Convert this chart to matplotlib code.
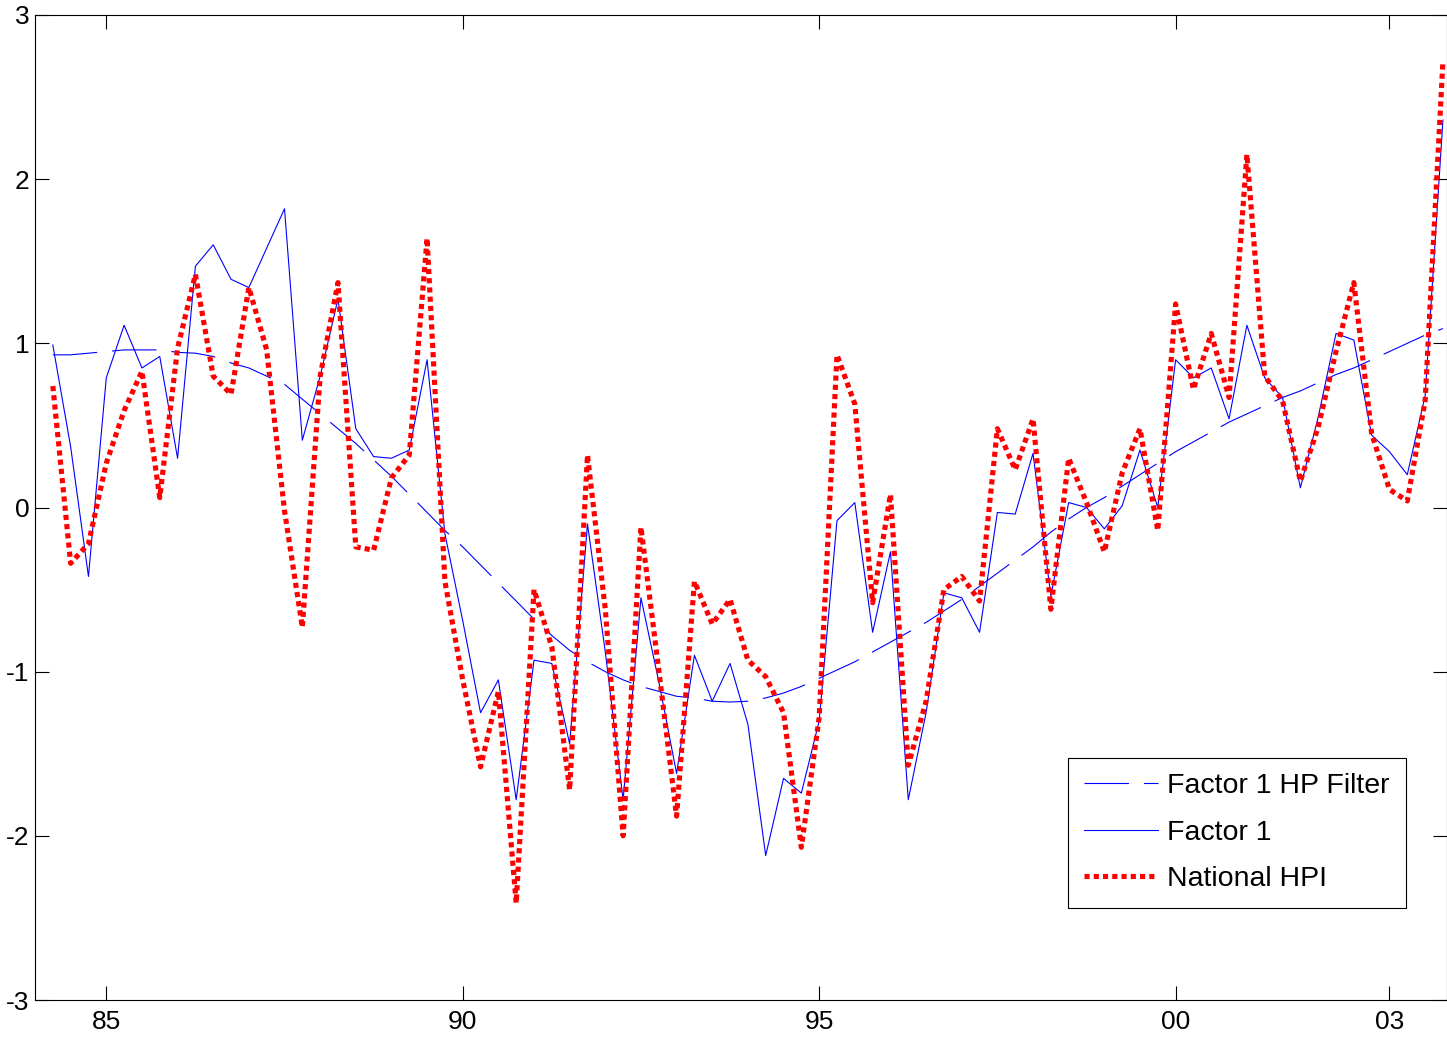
import matplotlib
matplotlib.use("Agg")
import matplotlib.pyplot as plt
import numpy as np

plt.rcParams['font.family'] = ['Liberation Sans', 'DejaVu Sans']
plt.rcParams['axes.unicode_minus'] = False

# quarterly observations, 1984Q2 .. 2003Q4
start_year = 1984.25
n_obs = 79

factor1 = [0.99, 0.37, -0.42, 0.79, 1.11, 0.85, 0.92, 0.30, 1.47, 1.60,
           1.39, 1.34, 1.58, 1.82, 0.41, 0.80, 1.27, 0.48, 0.31, 0.30,
           0.35, 0.90, -0.16, -0.69, -1.25, -1.05, -1.78, -0.93, -0.95, -1.44,
           -0.10, -0.88, -1.78, -0.55, -1.06, -1.62, -0.90, -1.18, -0.95, -1.32,
           -2.12, -1.65, -1.74, -1.30, -0.08, 0.03, -0.76, -0.27, -1.78, -1.25,
           -0.52, -0.55, -0.76, -0.03, -0.04, 0.33, -0.54, 0.03, 0.00, -0.13,
           0.01, 0.35, 0.00, 0.90, 0.79, 0.85, 0.54, 1.11, 0.79, 0.67,
           0.12, 0.55, 1.06, 1.02, 0.44, 0.34, 0.20, 0.68, 2.36]

hp_trend = [0.93, 0.93, 0.94, 0.95, 0.96, 0.96, 0.96, 0.945, 0.94, 0.92,
            0.88, 0.85, 0.80, 0.75, 0.66, 0.57, 0.48, 0.39, 0.29, 0.19,
            0.08, -0.03, -0.14, -0.24, -0.35, -0.46, -0.57, -0.68, -0.78, -0.87,
            -0.94, -1.00, -1.05, -1.09, -1.12, -1.15, -1.16, -1.18, -1.185, -1.18,
            -1.16, -1.13, -1.09, -1.04, -0.99, -0.94, -0.88, -0.82, -0.76, -0.70,
            -0.63, -0.56, -0.48, -0.40, -0.32, -0.24, -0.15, -0.07, 0.00, 0.06,
            0.13, 0.20, 0.27, 0.34, 0.40, 0.46, 0.52, 0.57, 0.62, 0.67,
            0.71, 0.76, 0.81, 0.85, 0.90, 0.95, 1.00, 1.05, 1.09]

national_hpi = [0.74, -0.34, -0.22, 0.27, 0.59, 0.83, 0.06, 0.97, 1.42, 0.80,
                0.69, 1.34, 0.96, -0.02, -0.73, 0.80, 1.37, -0.24, -0.26, 0.18,
                0.32, 1.64, -0.45, -1.05, -1.58, -1.12, -2.41, -0.50, -0.85, -1.72,
                0.32, -0.62, -2.00, -0.12, -0.99, -1.88, -0.45, -0.71, -0.56, -0.93,
                -1.03, -1.25, -2.07, -1.28, 0.93, 0.63, -0.58, 0.08, -1.57, -1.18,
                -0.50, -0.42, -0.57, 0.48, 0.23, 0.54, -0.62, 0.30, 0.03, -0.27,
                0.21, 0.48, -0.14, 1.24, 0.72, 1.06, 0.67, 2.15, 0.80, 0.65,
                0.16, 0.49, 0.95, 1.37, 0.45, 0.11, 0.04, 0.65, 2.72]

xtick_pos = [1985, 1990, 1995, 2000, 2003]
xtick_lab = ['85', '90', '95', '00', '03']
ytick_pos = [-3, -2, -1, 0, 1, 2, 3]

t = start_year + 0.25 * np.arange(n_obs)

fig = plt.figure(figsize=(14.47, 10.38), dpi=100)
ax = fig.add_axes([35 / 1447, 38 / 1038, 1411.5 / 1447, 985 / 1038])

ax.plot(t, hp_trend, color=(0, 0, 1), lw=0.8, dashes=(40, 13.5),
        label='Factor 1 HP Filter')
ax.plot(t, factor1, color=(0, 0, 1), lw=0.8, label='Factor 1')
ax.plot(t, national_hpi, color=(1, 0, 0), lw=3.7, dashes=(1, 0.8),
        label='National HPI')

ax.set_xlim(1984.0, 2003.8)
ax.set_ylim(-3, 3)
ax.set_xticks(xtick_pos)
ax.set_xticklabels(xtick_lab)
ax.set_yticks(ytick_pos)
ax.tick_params(direction='in', length=10, width=0.8, labelsize=19,
               top=True, right=True)
ax.tick_params(axis='x', pad=7)
ax.tick_params(axis='y', pad=4)
for s in ax.spines.values():
    s.set_linewidth(0.8)

leg = ax.legend(loc='lower right', bbox_to_anchor=(0.971, 0.0934),
                borderaxespad=0, fontsize=20.5, fancybox=False, framealpha=1,
                edgecolor='black', handlelength=2.6, handletextpad=0.33,
                labelspacing=0.72, borderpad=0.55)
leg.get_frame().set_linewidth(0.8)

fig.savefig("out.png", dpi=100)
